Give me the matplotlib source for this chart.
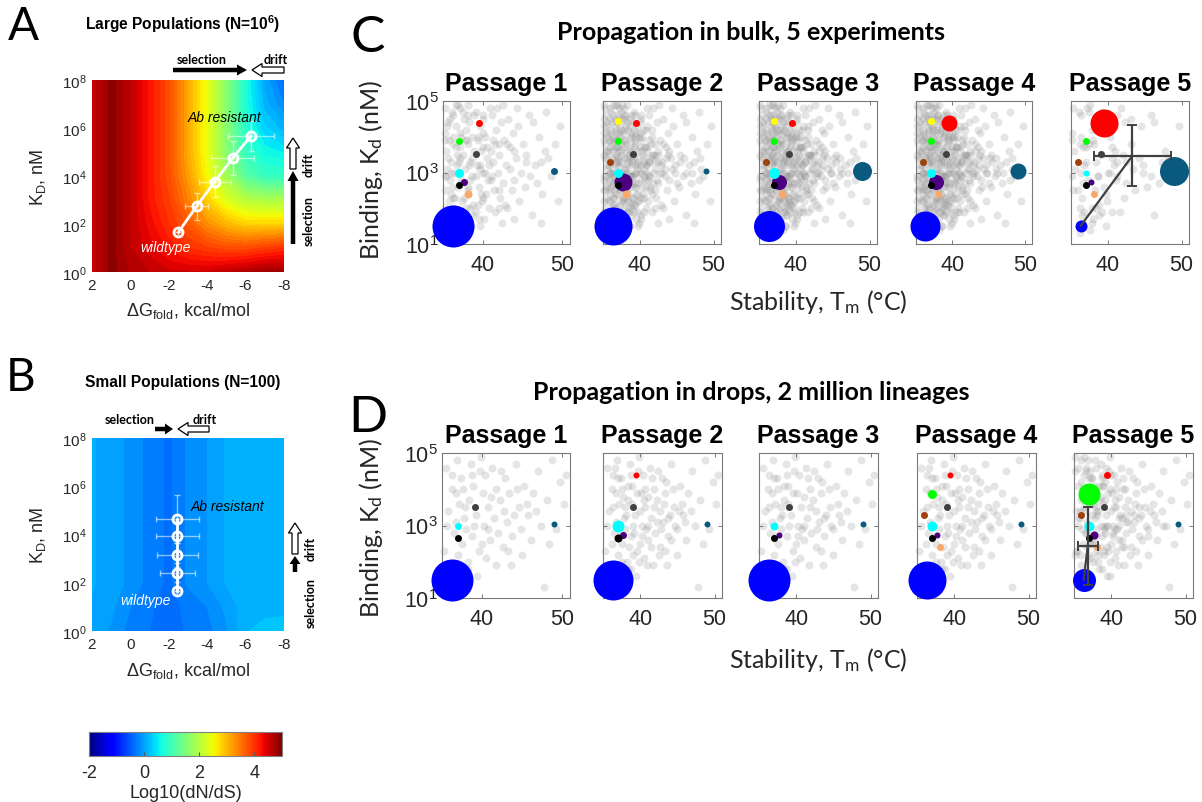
import numpy as np
import matplotlib
matplotlib.use('Agg')
import matplotlib.pyplot as plt
from matplotlib.patches import FancyArrow
from matplotlib.cm import ScalarMappable
from matplotlib.colors import Normalize
from matplotlib.ticker import FixedLocator, FixedFormatter, NullLocator

plt.rcParams['font.family'] = ['Liberation Sans', 'DejaVu Sans']
plt.rcParams['mathtext.fontset'] = 'custom'
plt.rcParams['mathtext.rm'] = 'Liberation Sans'
plt.rcParams['mathtext.it'] = 'Liberation Sans:italic'
plt.rcParams['mathtext.bf'] = 'Liberation Sans:bold'
plt.rcParams['axes.unicode_minus'] = False

# ---------------- data: panels A / B (log10 dN/dS landscapes) ----------------
dg_grid = [2, 1, 0, -1, -2, -3, -4, -5, -6, -7, -8]          # dG_fold, kcal/mol
logkd_grid = [0, 1, 2, 3, 4, 5, 6, 7, 8]                      # log10 KD (nM)
field_large = [
    [4.5, 4.9, 4.7, 4.6, 4.5, 4.5, 4.5, 4.6, 4.7, 4.8, 4.8],
    [4.5, 4.9, 4.6, 4.4, 4.2, 4.0, 3.9, 3.8, 3.8, 3.9, 4.0],
    [4.5, 4.9, 4.6, 4.3, 4.0, 3.7, 3.3, 3.0, 2.8, 2.8, 2.8],
    [4.5, 4.9, 4.6, 4.2, 3.9, 3.4, 2.8, 2.3, 2.0, 1.9, 1.9],
    [4.5, 4.9, 4.6, 4.2, 3.8, 3.2, 2.5, 1.8, 1.2, 0.9, 0.9],
    [4.5, 4.9, 4.6, 4.2, 3.8, 3.1, 2.4, 1.6, 0.9, 0.6, 0.5],
    [4.5, 4.9, 4.6, 4.2, 3.8, 3.1, 2.4, 1.6, 0.8, 0.3, 0.1],
    [4.5, 4.9, 4.6, 4.2, 3.8, 3.1, 2.4, 1.6, 0.7, 0.1, -0.2],
    [4.5, 4.9, 4.6, 4.2, 3.8, 3.1, 2.4, 1.6, 0.7, 0.0, -0.4],
]
field_small = [
    [0.00, -0.10, -0.25, -0.32, -0.40, -0.30, -0.25, -0.10, 0.15, 0.20, 0.22],
    [0.03, -0.05, -0.20, -0.30, -0.38, -0.28, -0.20, -0.05, 0.10, 0.12, 0.12],
    [0.05, 0.00, -0.12, -0.25, -0.35, -0.18, -0.08, 0.05, 0.07, 0.08, 0.08],
    [0.05, 0.00, -0.12, -0.25, -0.35, -0.18, -0.08, 0.05, 0.07, 0.08, 0.08],
    [0.05, 0.00, -0.12, -0.25, -0.35, -0.18, -0.08, 0.05, 0.07, 0.08, 0.08],
    [0.05, 0.00, -0.12, -0.25, -0.35, -0.18, -0.08, 0.05, 0.07, 0.08, 0.08],
    [0.05, 0.00, -0.12, -0.25, -0.35, -0.18, -0.08, 0.05, 0.07, 0.08, 0.08],
    [0.05, 0.00, -0.12, -0.25, -0.35, -0.18, -0.08, 0.05, 0.07, 0.08, 0.08],
    [0.05, 0.00, -0.12, -0.25, -0.35, -0.18, -0.08, 0.05, 0.07, 0.08, 0.08],
]
# trajectories (mean +- sd)
large_dg = [-2.5, -3.45, -4.4, -5.32, -6.27]
large_logkd = [1.66, 2.74, 3.77, 4.74, 5.66]
large_dg_err = [0.0, 0.6, 0.85, 1.1, 1.2]
large_logkd_err = [0.0, 0.57, 0.66, 0.7, 0.62]
small_dg = [-2.45, -2.45, -2.45, -2.45, -2.45]
small_logkd = [1.65, 2.42, 3.14, 3.94, 4.63]
small_dg_err = [0.0, 0.9, 1.05, 1.1, 1.1]
small_logkd_err = [0.0, 0.4, 0.5, 0.6, 1.0]

# ---------------- data: panels C / D (Tm, log10 Kd) ----------------
bulk_a = [(35.3,4.8),(35.6,4.4),(35.2,4.1),(35.8,3.9),(35.4,3.6),(36.0,3.3),(35.5,3.1),(35.9,2.8),
          (35.3,2.5),(35.7,2.2),(36.2,2.0),(35.4,1.8),(36.5,1.6),(35.8,1.4),(36.3,4.6),(36.6,4.3),
          (36.2,3.8),(36.8,3.5),(36.4,3.0),(36.9,2.6),(36.5,2.3),(36.1,2.6),(36.7,1.9),(36.9,4.9),
          (36.3,4.0),(35.6,3.4),(36.8,3.2),(36.0,2.4),(35.2,2.9),(35.9,4.5),(36.6,3.7),(36.4,1.2),
          (37.2,4.8),(37.6,4.5),(37.9,4.2),(37.3,4.0),(38.1,3.8),(37.5,3.5),(38.4,3.3),(37.8,3.1),
          (38.6,2.9),(37.4,2.7),(38.2,2.5),(37.7,2.3),(38.8,2.1),(37.3,1.9),(38.0,1.7),(38.5,1.5),
          (37.6,1.4),(38.9,4.6),(38.3,4.4),(38.7,4.0),(37.1,3.7),(38.9,3.6),(37.9,2.0),(38.4,2.8),
          (37.0,3.3),(38.6,3.4),(37.5,4.7),(38.2,4.9),(38.8,1.8),(37.8,3.9),
          (39.2,4.7),(39.6,4.3),(40.1,4.5),(39.4,3.9),(40.3,4.0),(39.8,3.6),(40.6,3.4),(39.3,3.2),
          (40.0,3.0),(40.7,2.8),(39.5,2.6),(40.4,2.4),(39.9,2.2),(40.8,2.0),(39.2,1.9),(40.2,1.7),
          (39.7,1.5),(40.9,4.8),(40.5,3.7),(39.1,2.9),(40.0,4.1),(39.6,3.1),(40.8,3.2),(39.4,2.1),
          (41.2,4.6),(41.7,4.2),(42.3,4.4),(41.5,3.8),(42.1,3.5),(42.7,3.9),(41.3,3.3),(41.9,3.0),
          (42.5,2.7),(41.4,2.5),(42.2,2.3),(42.8,2.1),(41.6,1.9),(42.4,1.6),(41.1,2.8),(42.9,3.2),
          (41.8,4.8),(42.6,4.9),(41.0,3.6),(42.0,2.0),
          (43.2,4.5),(43.8,4.1),(44.5,4.3),(43.5,3.7),(44.2,3.4),(45.1,3.8),(43.4,3.1),(44.0,2.8),
          (44.8,3.0),(45.5,3.3),(43.7,2.5),(44.6,2.2),(45.3,2.6),(43.1,2.0),(45.8,4.6),(44.3,4.8),
          (45.9,2.9),(43.9,1.7),
          (46.3,4.4),(47.1,4.0),(47.8,3.6),(46.6,3.2),(48.2,3.4),(49.1,3.8),(46.9,2.7),(47.5,2.4),
          (48.6,2.9),(49.5,2.2),(46.2,1.8),(48.0,4.7),(49.7,4.3),(47.3,1.6)]
bulk_b = [(35.1,4.5),(35.5,4.0),(35.3,3.4),(35.7,2.7),(35.1,2.2),(35.6,1.6),(35.9,4.8),(36.2,4.4),
          (36.0,3.7),(36.3,3.1),(36.1,2.9),(36.4,2.1),(36.2,1.7),(36.7,4.1),(36.9,3.9),(36.6,3.4),
          (36.8,2.8),(36.5,2.5),(36.9,1.5),(37.1,4.6),(37.3,4.3),(37.0,3.6),(37.4,3.3),(37.2,3.0),
          (37.5,2.6),(37.1,2.4),(37.3,2.1),(37.6,1.8),(37.8,4.8),(38.0,4.5),(37.7,4.1),(38.1,3.6),
          (37.9,3.4),(38.3,3.0),(38.0,2.7),(38.4,2.4),(38.2,2.2),(38.5,1.9),(38.7,4.3),(38.9,4.0),
          (38.6,3.8),(38.8,3.2),(39.0,2.9),(38.7,2.6),(39.1,2.3),(38.9,2.0),(39.3,4.6),(39.5,4.1),
          (39.2,3.7),(39.6,3.4),(39.4,3.0),(39.7,2.7),(39.5,2.4),(39.8,1.9),(40.0,4.4),(40.2,3.9),
          (40.4,3.5),(40.1,3.2),(40.5,2.9),(40.3,2.6),(40.6,2.3),(40.2,1.8),(40.8,4.2),(41.0,3.7),
          (41.2,3.3),(40.9,3.0),(41.4,2.6),(41.1,2.2),(41.6,4.0),(41.8,3.5),(42.0,3.1),(42.3,2.8),
          (41.7,2.4),(42.5,3.6),(43.0,3.3),(43.4,2.9),(43.8,3.5),(44.4,3.1),(45.0,2.7),(46.0,3.4),
          (47.0,3.0),(48.3,3.1),(36.4,4.9),(35.4,1.3),(37.0,1.3),(38.6,1.5),(39.9,1.6),(36.1,4.1),
          (35.8,3.2),(35.2,2.5)]
bulk_c = [(35.2,3.9),(35.6,3.6),(35.4,2.9),(35.9,2.5),(35.3,2.0),(35.7,1.7),(36.1,4.7),(36.4,3.6),
          (36.0,3.0),(36.6,2.7),(36.3,2.3),(36.8,2.0),(36.5,1.8),(36.9,4.4),(37.2,4.1),(37.5,3.8),
          (37.1,3.4),(37.7,3.0),(37.3,2.8),(37.9,2.5),(37.4,2.2),(37.8,1.6),(38.1,4.6),(38.4,4.2),
          (38.0,3.9),(38.6,3.6),(38.3,3.2),(38.7,2.9),(38.1,2.6),(38.9,2.3),(38.4,2.0),(39.1,4.4),
          (39.4,4.0),(39.0,3.5),(39.7,3.2),(39.3,2.7),(39.8,2.4),(39.2,2.1),(40.1,4.6),(40.4,4.2),
          (40.0,3.7),(40.6,3.3),(40.3,3.0),(40.8,2.6),(40.1,2.3),(41.0,4.3),(41.3,3.9),(41.5,3.4),
          (41.2,2.9),(41.8,2.7),(42.1,3.8),(42.4,3.3),(42.0,2.5),(42.7,3.0),(43.1,3.8),(43.5,3.4),
          (44.0,3.6),(44.7,3.2),(45.4,3.5),(46.2,3.0),(47.4,3.3),(48.0,2.8),(36.7,4.9),(37.6,4.9),
          (35.5,4.3),(35.8,1.4),(36.2,1.3),(38.2,1.4),(39.5,1.7),(40.6,1.9)]
bulk_d = [(35.1,4.9),(35.4,4.6),(35.2,4.3),(35.6,4.1),(35.3,3.8),(35.1,3.5),(35.5,3.2),(35.2,2.8),
          (35.6,2.6),(35.4,2.3),(35.1,1.9),(35.5,1.5),(35.9,4.2),(36.1,3.9),(35.8,3.6),(36.2,3.4),
          (35.9,3.0),(36.3,2.7),(36.0,2.2),(36.3,1.9),(36.0,1.6),(36.6,4.5),(36.8,4.2),(36.5,3.9),
          (36.9,3.7),(36.7,3.3),(36.5,2.9),(36.8,2.4),(36.6,2.1),(36.9,1.7),(37.2,4.5),(37.4,4.2),
          (37.1,3.9),(37.5,3.6),(37.2,3.2),(37.6,2.9),(37.3,2.5),(37.7,2.2),(37.4,1.6),(37.9,4.6),
          (38.1,4.3),(37.8,3.7),(38.2,3.4),(38.0,3.1),(38.3,2.8),(37.9,2.3),(38.2,1.9),(38.6,4.5),
          (38.8,4.1),(38.5,3.5),(38.9,3.3),(38.6,3.0),(38.9,2.7),(38.5,2.2),(39.2,4.2),(39.4,3.8),
          (39.1,3.4),(39.5,3.0),(39.2,2.6),(39.6,2.2),(39.9,4.0),(40.1,3.6),(39.8,3.3),(40.2,2.8),
          (40.5,3.1),(40.7,3.7),(41.0,3.2),(41.3,2.9),(41.6,3.5),(42.0,3.3),(42.5,3.5),(43.0,3.0)]
drop_a = [(35.5,4.6),(36.2,4.0),(35.8,3.4),(36.5,2.8),(35.3,2.3),(36.0,1.9),(36.9,4.8),(37.4,4.3),
          (37.1,3.6),(37.8,3.2),(37.5,2.5),(38.2,2.0),(37.2,1.6),(38.6,4.7),(38.9,4.1),(38.4,3.7),
          (39.3,3.3),(38.7,2.7),(39.6,2.3),(38.3,1.8),(39.9,4.9),(40.4,4.4),(40.1,3.9),(40.7,3.5),
          (40.2,3.0),(41.0,2.6),(40.5,2.1),(41.3,4.6),(41.8,4.0),(41.5,3.2),(42.2,3.7),(42.0,2.8),
          (42.6,2.4),(41.7,1.9),(42.9,4.3),(43.4,3.9),(43.1,3.1),(43.8,2.7),(44.2,4.7),(44.6,3.5),
          (44.9,2.9),(45.3,4.1),(45.8,3.3),(46.4,3.9),(46.1,2.6),(47.0,4.5),(47.4,3.0),(48.1,3.7),
          (48.7,4.8),(49.3,2.9),(50.2,3.6),(49.8,4.2),(47.8,1.3),(45.0,2.2),(43.6,1.9),(36.7,3.1),
          (37.0,2.2),(36.3,4.4),(39.0,3.0),(39.7,4.5),(40.8,2.9),(41.1,3.8),(42.4,4.5),(44.0,3.3),
          (35.6,3.0),(35.9,1.5),(37.6,4.0),(38.0,2.9),(39.4,1.6),(40.0,2.5),(36.8,3.9),(37.9,3.5),
          (38.8,4.4),(42.7,3.4),(43.3,2.3),(46.8,3.4),(48.4,2.5),(50.5,4.4),(44.4,4.0),(45.6,3.6)]
drop_b = [(36.4,3.5),(36.9,3.0),(37.3,2.7),(37.7,3.8),(38.1,3.3),(38.5,2.4),(38.9,3.6),(39.2,2.8),
          (39.6,3.9),(40.0,3.4),(40.3,2.7),(40.7,4.0),(41.1,3.0),(41.4,2.4),(41.9,3.5),(42.3,3.1),
          (42.8,2.9),(43.2,3.6),(43.7,3.2),(44.1,2.6),(44.7,3.0),(45.2,3.4),(46.0,3.1),(36.2,2.5),
          (37.0,4.3),(37.5,2.0),(38.3,4.1),(39.0,2.2),(39.8,2.0),(40.5,3.7),(41.6,4.3),(42.5,2.2),
          (43.5,4.2),(36.6,4.6),(38.7,1.8),(40.9,1.9)]

# tracked variants: Tm (C), Kd (nM)
variants = ['blue', 'teal', 'red', 'yellow', 'green', 'dgray', 'brown', 'purple', 'cyan', 'black', 'orange']
variant_color = {'blue': '#0000ff', 'teal': '#0a5a80', 'red': '#ff0000', 'yellow': '#ffff00',
                 'green': '#00ff00', 'dgray': '#404040', 'brown': '#a0400c', 'purple': '#4b0082',
                 'cyan': '#00ffff', 'black': '#000000', 'orange': '#f8a868'}
variant_tm = {'blue': 36.3, 'teal': 49.0, 'red': 39.5, 'yellow': 37.0, 'green': 37.0, 'dgray': 39.1,
              'brown': 35.9, 'purple': 37.7, 'cyan': 37.0, 'black': 37.0, 'orange': 38.1}
variant_kd = {'blue': 32, 'teal': 1070, 'red': 25000, 'yellow': 28000, 'green': 7600, 'dgray': 3200,
              'brown': 2000, 'purple': 560, 'cyan': 1000, 'black': 460, 'orange': 250}
# relative abundance shown as marker diameter (px) per passage 1..5
bulk_abund = {'blue': [42, 38, 31, 30, 12], 'teal': [7, 6, 19, 16, 29], 'red': [7, 7, 7, 16, 28],
              'yellow': [0, 7, 7, 7, 0], 'green': [7, 7, 7, 7, 7], 'dgray': [7, 7, 7, 7, 7],
              'brown': [0, 7, 7, 7, 7], 'purple': [7, 18, 15, 15, 6], 'cyan': [9, 9, 11, 9, 6],
              'black': [7, 7, 7, 7, 7], 'orange': [8, 8, 8, 7, 7]}
drop_abund = {'blue': [42, 40, 42, 38, 23], 'teal': [6, 6, 6, 6, 6], 'red': [0, 6, 0, 6, 7],
              'yellow': [0, 0, 0, 0, 0], 'green': [0, 0, 0, 9, 22], 'dgray': [7, 7, 7, 7, 7],
              'brown': [0, 0, 0, 7, 7], 'purple': [0, 7, 6, 6, 8], 'cyan': [7, 12, 8, 10, 10],
              'black': [7, 8, 7, 7, 7], 'orange': [0, 0, 0, 7, 7]}
# passage-5 population mean +- sd (Tm, Kd)
bulk_mean = (43.3, 2900.0); bulk_tm_sd = 5.2; bulk_kd_range = (420.0, 21000.0)
drop_mean = (36.85, 270.0); drop_tm_sd = 1.35; drop_kd_range = (23.0, 3160.0)

passages = ['Passage 1', 'Passage 2', 'Passage 3', 'Passage 4', 'Passage 5']
cb_ticks = [-2, 0, 2, 4]
kd_ticks = [10, 1e3, 1e5]
kd_ticklabels = ['10$^{1}$', '10$^{3}$', '10$^{5}$']
ab_ticks = [0, 2, 4, 6, 8]
ab_ticklabels = ['10$^{0}$', '10$^{2}$', '10$^{4}$', '10$^{6}$', '10$^{8}$']

# ---------------- figure ----------------
W, H = 1202, 803
fig = plt.figure(figsize=(W / 100, H / 100), dpi=100)
CAL = ['Lato', 'DejaVu Sans']
TXT = '#262626'


def add_ax(l, t, r, b, **kw):
    return fig.add_axes([l / W, 1 - b / H, (r - l) / W, (b - t) / H], **kw)


def landscape(ax, field, dg, lk, dge, lke, ab_xy, wt_xy):
    ax.contourf(dg_grid, logkd_grid, np.array(field), levels=np.arange(-2, 5.01, 0.12),
                cmap='jet', vmin=-2, vmax=5, extend='both')
    ax.set_xlim(2, -8)
    ax.set_ylim(0, 8)
    for s in ax.spines.values():
        s.set_visible(False)
    ax.set_xticks([2, 0, -2, -4, -6, -8])
    ax.set_yticks(ab_ticks)
    ax.set_yticklabels(ab_ticklabels)
    ax.tick_params(length=0, labelsize=11, labelcolor=TXT, pad=4)
    ax.errorbar(dg, lk, xerr=dge, yerr=lke, fmt='none', ecolor=(1, 1, 1, 0.55),
                elinewidth=1, capsize=2.5, zorder=3)
    ax.plot(dg, lk, '-', color='white', lw=2, zorder=4)
    ax.plot(dg, lk, 'o', mfc='none', mec='white', mew=2, ms=6.5, zorder=5)
    ax.text(ab_xy[0], ab_xy[1], 'Ab resistant', style='italic', fontsize=10, color='black',
            ha='left', va='center')
    ax.text(wt_xy[0], wt_xy[1], 'wildtype', style='italic', fontsize=10, color='white',
            ha='left', va='center')
    ax.set_xlabel(r'$\Delta$G$_{\mathregular{fold}}$, kcal/mol', fontsize=13, color=TXT)
    ax.set_ylabel('K$_{\\mathregular{D}}$, nM', fontsize=13, color=TXT)
    ax.xaxis.set_label_coords(0.5, -0.2)
    ax.xaxis.label.set_va('center')
    ax.yaxis.set_label_coords(-0.28, 0.5)
    ax.yaxis.label.set_va('center')


axA = add_ax(92, 81, 284, 273)
landscape(axA, field_large, large_dg, large_logkd, large_dg_err, large_logkd_err,
          (-3.0, 6.45), (-0.5, 1.05))
axB = add_ax(92, 439, 284, 632)
landscape(axB, field_small, small_dg, small_logkd, small_dg_err, small_logkd_err,
          (-3.15, 5.2), (0.5, 1.27))

# colorbar
cax = add_ax(89, 733, 282, 757)
cb = fig.colorbar(ScalarMappable(norm=Normalize(-2, 5), cmap='jet'), cax=cax,
                  orientation='horizontal', ticks=cb_ticks)
cb.outline.set_edgecolor('#808080')
cb.outline.set_linewidth(0.8)
cax.tick_params(direction='in', length=3, color='#555555', labelsize=13, labelcolor=TXT, pad=6)
cb.set_label('Log10(dN/dS)', fontsize=13, color=TXT, labelpad=2)


def tm_kd_panel(l, t, r, b, idx, clouds, abund, title, mean=None, tm_sd=None, kd_rng=None):
    ax = add_ax(l, t, r, b)
    for cl in clouds:
        arr = np.array(cl)
        ax.scatter(arr[:, 0], 10 ** arr[:, 1], s=(8 * 0.72) ** 2, color=(0.5, 0.5, 0.5),
                   alpha=0.2, linewidths=0, clip_on=False, zorder=1)
    for v in variants:
        d = abund[v][idx]
        if d > 0:
            ax.scatter([variant_tm[v]], [variant_kd[v]], s=(d * 0.72) ** 2, color=variant_color[v],
                       linewidths=0, clip_on=False, zorder=3)
    if mean is not None:
        ax.plot([variant_tm['blue'], mean[0]], [variant_kd['blue'], mean[1]], color='#404040',
                lw=1.6, zorder=4, clip_on=False)
        ax.errorbar([mean[0]], [mean[1]], xerr=[[tm_sd], [tm_sd]],
                    yerr=[[mean[1] - kd_rng[0]], [kd_rng[1] - mean[1]]], fmt='none',
                    ecolor='#404040', elinewidth=1.6, capsize=3.5, capthick=1.4, zorder=4)
    ax.set_xlim(35, 51)
    ax.set_yscale('log')
    ax.set_ylim(10, 1e5)
    ax.xaxis.set_major_locator(FixedLocator([40, 50]))
    ax.yaxis.set_major_locator(FixedLocator(kd_ticks))
    ax.yaxis.set_minor_locator(NullLocator())
    ax.yaxis.set_major_formatter(FixedFormatter(kd_ticklabels))
    ax.tick_params(direction='in', top=True, right=True, length=3, width=0.6, color='#666666',
                   labelsize=15.5, labelcolor=TXT, pad=7)
    ax.tick_params(axis='y', pad=3)
    if idx > 0:
        ax.set_yticklabels([])
    for s in ax.spines.values():
        s.set_color('#7a7a7a')
        s.set_linewidth(0.8)
    ax.set_title(title, fontsize=18, fontweight='bold', pad=8)
    return ax


C_pos = [(443, 570), (603, 721), (759, 877), (916, 1032), (1071, 1189)]
D_pos = [(442, 570), (603, 722), (759, 878), (917, 1036), (1074, 1193)]
C_clouds = [[bulk_a, bulk_c[::2]], [bulk_a, bulk_b, bulk_c, bulk_d],
            [bulk_a, bulk_b, bulk_c, bulk_d, drop_b], [bulk_a, bulk_b, bulk_c, bulk_d, drop_b],
            [bulk_a[::2], bulk_c[::3]]]
D_clouds = [[drop_a], [drop_a, drop_b], [drop_a, drop_b[::2]], [drop_a, drop_b],
            [drop_a, drop_b, bulk_b[::2], bulk_d[::3]]]
for i in range(5):
    if i == 4:
        tm_kd_panel(C_pos[i][0], 102, C_pos[i][1], 245, i, C_clouds[i], bulk_abund, passages[i],
                    bulk_mean, bulk_tm_sd, bulk_kd_range)
        tm_kd_panel(D_pos[i][0], 454, D_pos[i][1], 599, i, D_clouds[i], drop_abund, passages[i],
                    drop_mean, drop_tm_sd, drop_kd_range)
    else:
        tm_kd_panel(C_pos[i][0], 102, C_pos[i][1], 245, i, C_clouds[i], bulk_abund, passages[i])
        tm_kd_panel(D_pos[i][0], 454, D_pos[i][1], 599, i, D_clouds[i], drop_abund, passages[i])

# ---------------- overlay: letters, titles, arrows ----------------
ov = fig.add_axes([0, 0, 1, 1], zorder=10)
ov.set_xlim(0, W)
ov.set_ylim(H, 0)
ov.axis('off')

ov.text(23, 27, 'A', fontsize=33, family=CAL, ha='center', va='center')
ov.text(21, 378, 'B', fontsize=33, family=CAL, ha='center', va='center')
ov.text(368, 38, 'C', fontsize=37, family=CAL, ha='center', va='center')
ov.text(368, 418, 'D', fontsize=37, family=CAL, ha='center', va='center')
ov.text(183, 24, 'Large Populations (N=10$^{\\mathbf{6}}$)', fontsize=11.2, fontweight='bold',
        ha='center', va='center')
ov.text(183, 383, 'Small Populations (N=100)', fontsize=11.2, fontweight='bold',
        ha='center', va='center')
ov.text(751, 33, 'Propagation in bulk, 5 experiments', fontsize=18, fontweight='bold', family=CAL,
        ha='center', va='center')
ov.text(751, 393, 'Propagation in drops, 2 million lineages', fontsize=18, fontweight='bold',
        family=CAL, ha='center', va='center')
for yc in (170, 528):
    ov.text(371, yc, 'Binding, K$\\mathregular{_d}$ (nM)', fontsize=18, family=CAL, rotation=90,
            ha='center', va='center', color=TXT)
for yc in (302, 660):
    ov.text(818, yc, 'Stability, T$\\mathregular{_m}$ (°C)', fontsize=18, family=CAL,
            ha='center', va='center', color=TXT)


def solid_arrow(x0, y0, x1, y1, w, hw, hl):
    ov.add_patch(FancyArrow(x0, y0, x1 - x0, y1 - y0, width=w, head_width=hw, head_length=hl,
                            length_includes_head=True, color='black', lw=0))


def hollow_arrow(x0, y0, x1, y1, w, hw, hl):
    ov.add_patch(FancyArrow(x0, y0, x1 - x0, y1 - y0, width=w, head_width=hw, head_length=hl,
                            length_includes_head=True, facecolor='white', edgecolor='black', lw=0.9))


lab = dict(fontsize=9, fontweight='bold', family=CAL, ha='center', va='center')
# panel A arrows
solid_arrow(173, 71, 247, 71, 4.5, 11, 10)
hollow_arrow(284, 71, 252, 71, 6, 13, 10)
ov.text(202, 60, 'selection', **lab)
ov.text(276, 60, 'drift', **lab)
solid_arrow(293, 245, 293, 172, 4.5, 11, 10)
hollow_arrow(293, 170, 293, 139, 6, 13, 10)
ov.text(309, 165, 'drift', rotation=90, **lab)
ov.text(309, 221, 'selection', rotation=90, **lab)
# panel B arrows
solid_arrow(155, 430, 173, 430, 4.5, 11, 8)
hollow_arrow(209, 430, 178, 430, 6, 13, 10)
ov.text(130, 420, 'selection', **lab)
ov.text(205, 420, 'drift', **lab)
solid_arrow(295, 573, 295, 557, 4.5, 11, 8)
hollow_arrow(295, 555, 295, 524, 6, 13, 10)
ov.text(311, 549, 'drift', rotation=90, **lab)
ov.text(311, 603, 'selection', rotation=90, **lab)

fig.savefig('out.png', dpi=100)
